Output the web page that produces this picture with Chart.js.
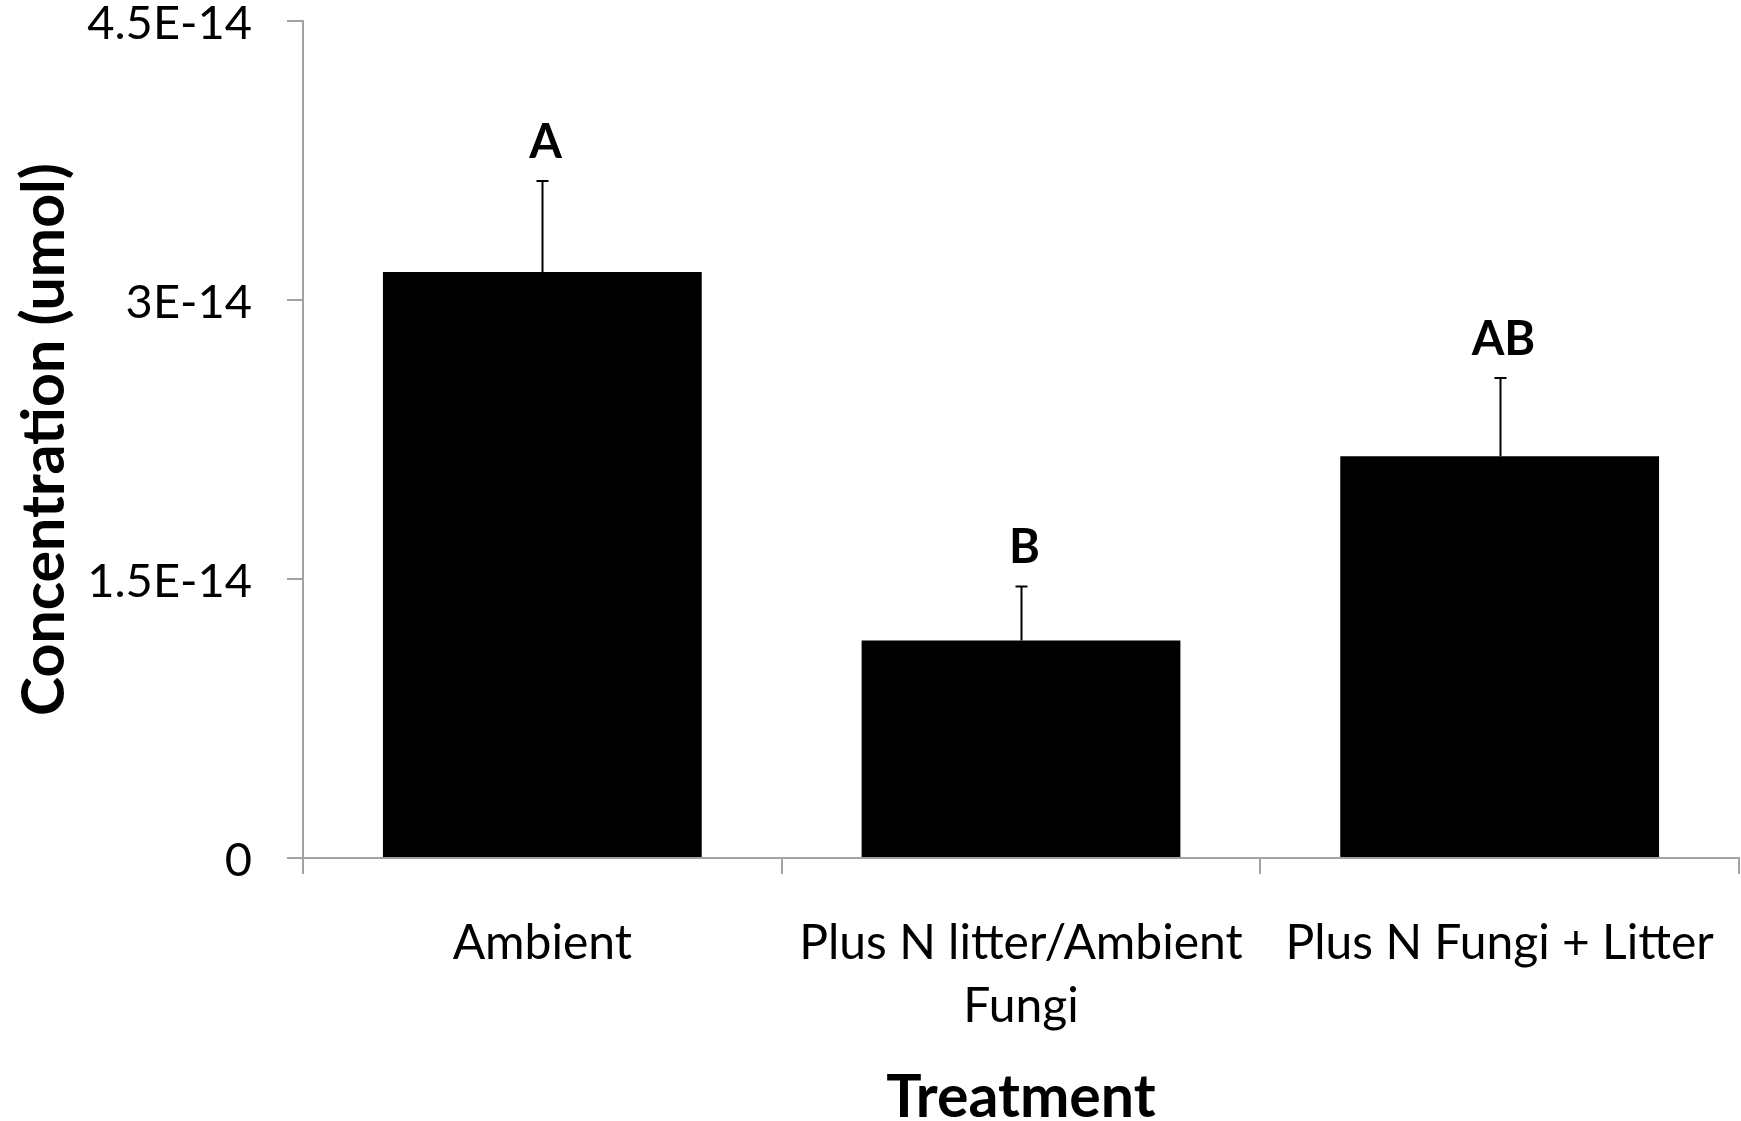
<!DOCTYPE html>
<html>
<head>
<meta charset="utf-8">
<script src="https://cdn.jsdelivr.net/npm/chart.js@4.4.1/dist/chart.umd.min.js"></script>
<style>
  html, body { margin: 0; padding: 0; background: #ffffff; }
  #wrap { width: 1741px; height: 1121px; }
</style>
</head>
<body>
<div id="wrap"><canvas id="chart" width="1741" height="1121"></canvas></div>
<script>
// Treatments and measured means (umol) with their standard errors
const categories = ['Ambient', ['Plus N litter/Ambient', 'Fungi'], 'Plus N Fungi + Litter'];
const meanValues = [3.15e-14, 1.17e-14, 2.16e-14];
const errorValues = [0.49e-14, 0.29e-14, 0.42e-14];
const groupLetters = ['A', 'B', 'AB'];
const yTickValues = [0, 1.5e-14, 3e-14, 4.5e-14];
const yTickLabels = ['0', '1.5E-14', '3E-14', '4.5E-14'];

const FONT = 'Lato, "Open Sans", sans-serif';
const AXIS_GREY = '#a3a3a3';

// Upward error bars with caps, plus significance letters above them
const errorBarPlugin = {
  id: 'errorBars',
  afterDatasetsDraw(chart) {
    const ctx = chart.ctx;
    const yScale = chart.scales.y;
    const meta = chart.getDatasetMeta(0);
    ctx.save();
    ctx.strokeStyle = '#000000';
    ctx.lineWidth = 2;
    meta.data.forEach((bar, i) => {
      const x = Math.round(bar.x) + 0.5;
      const yTop = yScale.getPixelForValue(meanValues[i] + errorValues[i]);
      const yBase = yScale.getPixelForValue(meanValues[i]);
      ctx.beginPath();
      ctx.moveTo(x, yBase);
      ctx.lineTo(x, yTop);
      ctx.moveTo(x - 6, yTop);
      ctx.lineTo(x + 6, yTop);
      ctx.stroke();
      ctx.fillStyle = '#000000';
      ctx.font = 'bold 47px ' + FONT;
      ctx.textAlign = 'center';
      ctx.textBaseline = 'alphabetic';
      ctx.fillText(groupLetters[i], x + 3, yTop - 23);
    });
    ctx.restore();
  }
};

new Chart(document.getElementById('chart'), {
  type: 'bar',
  data: {
    labels: categories,
    datasets: [{
      data: meanValues,
      backgroundColor: '#000000',
      borderWidth: 0,
      categoryPercentage: 1.0,
      barPercentage: 0.666
    }]
  },
  options: {
    responsive: false,
    animation: false,
    events: [],
    layout: { padding: { top: 21, right: 2, bottom: 0, left: 0 } },
    plugins: {
      legend: { display: false },
      tooltip: { enabled: false },
      title: { display: false }
    },
    scales: {
      x: {
        offset: true,
        grid: {
          display: true,
          offset: true,
          drawOnChartArea: false,
          drawTicks: true,
          tickLength: 16,
          color: AXIS_GREY,
          lineWidth: 2
        },
        border: { display: true, color: AXIS_GREY, width: 2 },
        ticks: {
          color: '#000000',
          padding: 38,
          maxRotation: 0,
          autoSkip: false,
          font: { family: FONT, size: 48, lineHeight: '63px' }
        },
        title: {
          display: true,
          text: 'Treatment',
          color: '#000000',
          font: { family: FONT, size: 59, weight: 'bold', lineHeight: 1 },
          padding: { top: 0, bottom: -6 }
        },
        afterFit(scale) {
          scale.height = 263;
          scale.paddingLeft = 0;
          scale.paddingRight = 0;
        }
      },
      y: {
        min: 0,
        max: 4.5e-14,
        afterBuildTicks(scale) {
          scale.ticks = yTickValues.map(v => ({ value: v }));
        },
        grid: {
          display: true,
          drawOnChartArea: false,
          drawTicks: true,
          tickLength: 16,
          color: AXIS_GREY,
          lineWidth: 2
        },
        border: { display: true, color: AXIS_GREY, width: 2 },
        ticks: {
          color: '#000000',
          padding: 35,
          labelOffset: 3,
          font: { family: FONT, size: 47 },
          callback: (value, index) => yTickLabels[index]
        },
        title: {
          display: true,
          text: 'Concentration (umol)',
          color: '#000000',
          font: { family: FONT, size: 59, weight: 'bold', lineHeight: 1 },
          padding: { top: 15, bottom: 0 }
        },
        afterFit(scale) {
          scale.width = 303;
          scale.paddingTop = 0;
          scale.paddingBottom = 0;
        }
      }
    }
  },
  plugins: [errorBarPlugin]
});
</script>
</body>
</html>
